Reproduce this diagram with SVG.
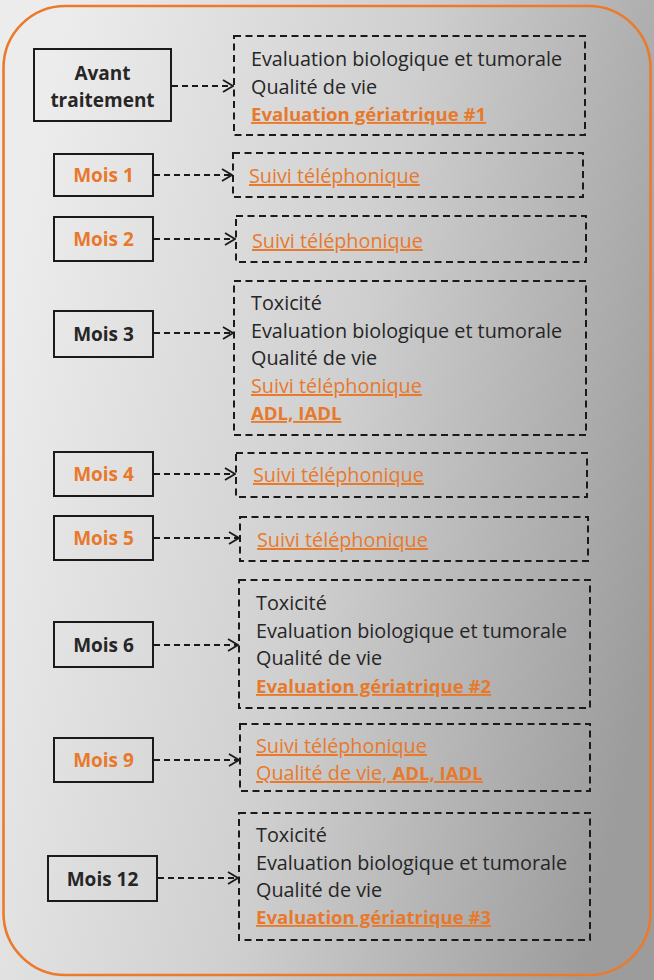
<svg xmlns="http://www.w3.org/2000/svg" width="654" height="980" viewBox="0 0 654 980">
  <defs>
    <linearGradient id="bg" x1="0" y1="0.35" x2="1" y2="0.65">
      <stop offset="0" stop-color="#ececec"/>
      <stop offset="0.5" stop-color="#cfcfcf"/>
      <stop offset="1" stop-color="#9c9c9c"/>
    </linearGradient>
    <marker id="chev" viewBox="0 0 12 14" refX="11" refY="7" markerWidth="12" markerHeight="14" markerUnits="userSpaceOnUse" orient="auto">
      <path d="M1,1 L11,7 L1,13" fill="none" stroke="#1a1a1a" stroke-width="1.8"/>
    </marker>
  </defs>
  <style>
    .step { fill: none; stroke: #1a1a1a; stroke-width: 2; }
    .plan { fill: none; stroke: #1a1a1a; stroke-width: 2; stroke-dasharray: 7 4.5; }
    .link { fill: none; stroke: #1a1a1a; stroke-width: 1.8; stroke-dasharray: 6 4; marker-end: url(#chev); }
    text { font-family: "Open Sans", "Liberation Sans", sans-serif; font-size: 19.8px; fill: #262626; }
    .lbl { font-weight: bold; font-size: 19px; text-anchor: middle; }
    .org { fill: #e8792b; }
    .u { text-decoration: underline; }
    .b { font-weight: bold; font-size: 18.6px; }
  </style>

  <!-- page -->
  <rect x="0" y="0" width="654" height="980" fill="url(#bg)"/>
  <rect x="3.5" y="6" width="647" height="969" rx="62" ry="62" fill="none" stroke="#ec7a2c" stroke-width="2.6"/>

  <!-- connectors -->
  <g id="connectors">
    <line class="link" x1="172" y1="86" x2="233" y2="86"/>
    <line class="link" x1="154" y1="175" x2="232" y2="175"/>
    <line class="link" x1="154" y1="239" x2="235" y2="239"/>
    <line class="link" x1="154" y1="333" x2="233" y2="333"/>
    <line class="link" x1="154" y1="474" x2="235" y2="474"/>
    <line class="link" x1="154" y1="538" x2="239" y2="538"/>
    <line class="link" x1="154" y1="645" x2="238" y2="645"/>
    <line class="link" x1="154" y1="760" x2="239" y2="760"/>
    <line class="link" x1="158" y1="878" x2="238" y2="878"/>
  </g>

  <!-- before treatment -->
  <g id="avant">
    <rect class="step" x="34" y="49" width="137" height="72"/>
    <text class="lbl" x="102.5" y="80">Avant</text>
    <text class="lbl" x="102.5" y="107">traitement</text>
  </g>
  <g id="avant-plan">
    <rect class="plan" x="234" y="36" width="351" height="99"/>
    <text x="251" y="66">Evaluation biologique et tumorale</text>
    <text x="251" y="94">Qualité de vie</text>
    <text x="251" y="121" class="org b u">Evaluation gériatrique #1</text>
  </g>

  <g id="mois1">
    <rect class="step" x="54" y="154" width="99" height="42"/>
    <text class="lbl org" x="103.5" y="182">Mois 1</text>
  </g>
  <g id="mois1-plan">
    <rect class="plan" x="233" y="153" width="350" height="44"/>
    <text x="249" y="183" class="org u">Suivi téléphonique</text>
  </g>

  <g id="mois2">
    <rect class="step" x="54" y="217" width="99" height="44"/>
    <text class="lbl org" x="103.5" y="246">Mois 2</text>
  </g>
  <g id="mois2-plan">
    <rect class="plan" x="236" y="216" width="350" height="46"/>
    <text x="252" y="248" class="org u">Suivi téléphonique</text>
  </g>

  <g id="mois3">
    <rect class="step" x="54" y="311" width="99" height="46"/>
    <text class="lbl" x="103.5" y="341">Mois 3</text>
  </g>
  <g id="mois3-plan">
    <rect class="plan" x="234" y="281" width="352" height="154"/>
    <text x="251" y="310">Toxicité</text>
    <text x="251" y="338">Evaluation biologique et tumorale</text>
    <text x="251" y="365">Qualité de vie</text>
    <text x="251" y="393" class="org u">Suivi téléphonique</text>
    <text x="251" y="420" class="org b u">ADL, IADL</text>
  </g>

  <g id="mois4">
    <rect class="step" x="54" y="452" width="99" height="44"/>
    <text class="lbl org" x="103.5" y="481">Mois 4</text>
  </g>
  <g id="mois4-plan">
    <rect class="plan" x="236" y="453" width="351" height="44"/>
    <text x="253" y="482" class="org u">Suivi téléphonique</text>
  </g>

  <g id="mois5">
    <rect class="step" x="54" y="516" width="99" height="44"/>
    <text class="lbl org" x="103.5" y="545">Mois 5</text>
  </g>
  <g id="mois5-plan">
    <rect class="plan" x="240" y="517" width="348" height="44"/>
    <text x="257" y="547" class="org u">Suivi téléphonique</text>
  </g>

  <g id="mois6">
    <rect class="step" x="54" y="622" width="99" height="45"/>
    <text class="lbl" x="103.5" y="652">Mois 6</text>
  </g>
  <g id="mois6-plan">
    <rect class="plan" x="239" y="580" width="351" height="128"/>
    <text x="256" y="610">Toxicité</text>
    <text x="256" y="638">Evaluation biologique et tumorale</text>
    <text x="256" y="665">Qualité de vie</text>
    <text x="256" y="693" class="org b u">Evaluation gériatrique #2</text>
  </g>

  <g id="mois9">
    <rect class="step" x="54" y="738" width="99" height="44"/>
    <text class="lbl org" x="103.5" y="767">Mois 9</text>
  </g>
  <g id="mois9-plan">
    <rect class="plan" x="240" y="724" width="350" height="67"/>
    <text x="256" y="753" class="org u">Suivi téléphonique</text>
    <text x="256" y="780" class="org u">Qualité de vie, <tspan class="b">ADL, IADL</tspan></text>
  </g>

  <g id="mois12">
    <rect class="step" x="48" y="856" width="109" height="45"/>
    <text class="lbl" x="102.5" y="886">Mois 12</text>
  </g>
  <g id="mois12-plan">
    <rect class="plan" x="239" y="813" width="351" height="127"/>
    <text x="256" y="842">Toxicité</text>
    <text x="256" y="870">Evaluation biologique et tumorale</text>
    <text x="256" y="897">Qualité de vie</text>
    <text x="256" y="924" class="org b u">Evaluation gériatrique #3</text>
  </g>
</svg>
